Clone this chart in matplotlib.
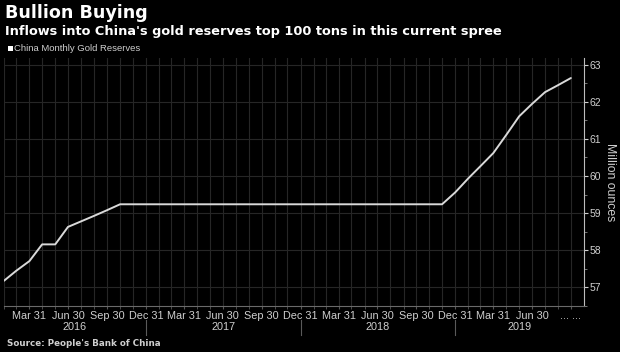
import matplotlib
matplotlib.use("Agg")
import matplotlib.pyplot as plt
import matplotlib.dates as mdates
import pandas as pd
import numpy as np

### Data ###
months = pd.date_range("2016-01-31", "2019-09-30", freq="ME")
reserves_2016 = [57.18, 57.45, 57.71, 58.16, 58.16, 58.63, 58.78, 58.93, 59.08, 59.24, 59.24, 59.24]
reserves_2017 = [59.24] * 12
reserves_2018 = [59.24] * 11 + [59.56]
reserves_2019 = [59.94, 60.26, 60.62, 61.10, 61.61, 61.94, 62.26, 62.45, 62.64]
reserves = reserves_2016 + reserves_2017 + reserves_2018 + reserves_2019

tick_dates = pd.date_range("2016-03-31", "2019-09-30", freq="QE")
tick_labels = ["Mar 31", "Jun 30", "Sep 30", "Dec 31"] * 3 + ["Mar 31", "Jun 30", "... ..."]
years = ["2016", "2017", "2018", "2019"]
year_breaks = pd.to_datetime(["2016-12-31", "2017-12-31", "2018-12-31"])

FG = "#cfcfcf"
GRID = "#262626"
font = "Liberation Sans"

fig = plt.figure(figsize=(6.2, 3.52), dpi=100, facecolor="black")
ax = fig.add_axes([4 / 620, 1 - 306 / 352, 580 / 620, 248 / 352])
ax.set_facecolor("black")

ax.plot(months, reserves, color="#d9d9d9", lw=1.4, solid_capstyle="round", zorder=3)

xmin = mdates.date2num(months[0])
xmax = mdates.date2num(pd.Timestamp("2019-10-31"))
ax.set_xlim(xmin, xmax)
ax.set_ylim(56.66, 63.18)

# x axis
ax.set_xticks(tick_dates)
ax.set_xticklabels(tick_labels, fontsize=7.8, color=FG, family=font)
ax.set_xticks(months, minor=True)
ax.tick_params(axis="x", which="both", length=2, color="#555555", pad=1.5)
ax.grid(which="minor", axis="x", color=GRID, lw=0.8)
ax.grid(which="major", axis="x", color=GRID, lw=0.8)

# y axis on the right
ax.yaxis.tick_right()
ax.set_yticks(np.arange(57, 64, 1))
ax.set_yticks(np.arange(56.5, 63.5, 0.5), minor=True)
ax.tick_params(axis="y", which="major", length=3, color=FG, pad=1, labelsize=7.5, labelcolor=FG)
ax.tick_params(axis="y", which="minor", length=2, color="#888888")
for lab in ax.get_yticklabels():
    lab.set_family(font)
ax.grid(which="major", axis="y", color=GRID, lw=0.8)
ax.text(1.044, 0.5, "Million ounces", transform=ax.transAxes, rotation=270, fontsize=8.8,
        color=FG, family=font, ha="center", va="center")

for s in ["top", "left"]:
    ax.spines[s].set_visible(False)
ax.spines["right"].set_color("#bdbdbd")
ax.spines["bottom"].set_color("#6a6a6a")
ax.set_axisbelow(True)

# year separators and labels
trans = ax.get_xaxis_transform()
bounds = [xmin] + [mdates.date2num(d) for d in year_breaks] + [xmax]
for d in year_breaks:
    ax.plot([d, d], [-0.056, -0.117], transform=trans, clip_on=False, color="#5a5a5a", lw=0.8)
for i, yr in enumerate(years):
    ax.text((bounds[i] + bounds[i + 1]) / 2, -0.085, yr, transform=trans, ha="center", va="center",
            fontsize=7.8, color=FG, family=font)

# titles, legend, source
fig.text(5 / 620, 1 - 18 / 352, "Bullion Buying", fontsize=12.6, fontweight="bold", color="white",
         family="DejaVu Sans", va="baseline")
fig.text(5 / 620, 1 - 35.5 / 352, "Inflows into China's gold reserves top 100 tons in this current spree",
         fontsize=9.3, fontweight="bold", color="white", family="DejaVu Sans", va="baseline")
fig.patches.append(plt.Rectangle((8 / 620, 1 - 51 / 352), 5 / 620, 5 / 352, transform=fig.transFigure,
                                 facecolor="white", edgecolor="none"))
fig.text(14 / 620, 1 - 48.5 / 352, "China Monthly Gold Reserves", fontsize=6.8, color=FG, family=font,
         va="center")
fig.text(7 / 620, 1 - 343 / 352, "Source: People's Bank of China", fontsize=6.3, fontweight="bold",
         color=FG, family="DejaVu Sans", va="center")

plt.savefig("out.png", dpi=100, facecolor="black")
